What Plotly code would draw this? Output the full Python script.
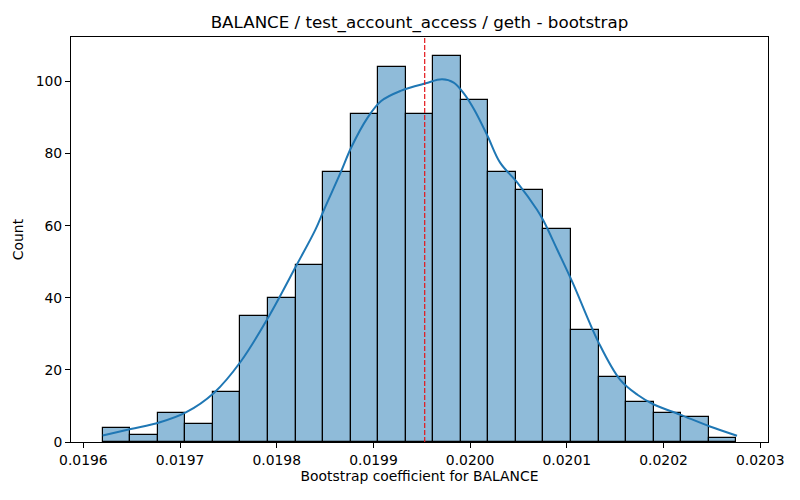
import plotly.graph_objects as go

# Histogram of bootstrap coefficients (23 bins)
bin_start = 0.019620
bin_width = 0.00002849
counts = [4, 2, 8, 5, 14, 35, 40, 49, 75, 91, 104, 91, 107, 95, 75, 70, 59, 31, 18, 11, 8, 7, 1]

# KDE curve (in count units)
kde_x = [0.019620, 0.019649, 0.0196785, 0.019706, 0.019735, 0.019763, 0.019792, 0.019820,
         0.019840, 0.019849, 0.019866, 0.019877, 0.019894, 0.019908, 0.019928, 0.019954,
         0.019971, 0.019983, 0.019994, 0.020004, 0.020018, 0.020031, 0.020049, 0.020069,
         0.020076, 0.020090, 0.020106, 0.020133, 0.020155, 0.020173, 0.020190, 0.020217,
         0.020248, 0.020276]
kde_y = [1.8, 3.6, 5.4, 8.2, 13.6, 22.4, 34.9, 48.8,
         58.9, 64.5, 74.7, 81.7, 90.0, 94.6, 97.4, 99.5,
         100.6, 99.7, 96.5, 92.3, 84.9, 77.5, 71.9, 64.5,
         61.3, 53.4, 44.2, 27.5, 17.3, 13.1, 10.4, 7.6,
         4.3, 1.75]

# Point estimate marked with the dashed line
point_estimate = 0.019953

x_ticks = [0.0196, 0.0197, 0.0198, 0.0199, 0.0200, 0.0201, 0.0202, 0.0203]
y_ticks = [0, 20, 40, 60, 80, 100]

bin_centers = [bin_start + (i + 0.5) * bin_width for i in range(len(counts))]

fig = go.Figure()

fig.add_trace(go.Bar(
    x=bin_centers,
    y=counts,
    width=bin_width,
    marker=dict(color='rgba(31,119,180,0.5)', line=dict(color='black', width=1.2)),
    showlegend=False,
))

fig.add_trace(go.Scatter(
    x=kde_x,
    y=kde_y,
    mode='lines',
    line=dict(color='#1f77b4', width=2, shape='spline'),
    showlegend=False,
))

fig.add_shape(
    type='line', xref='x', yref='paper',
    x0=point_estimate, x1=point_estimate, y0=0, y1=1,
    line=dict(color='#e3161b', width=1.2, dash='5px,2px'),
)

axis_style = dict(
    showgrid=False, zeroline=False, showline=True, linecolor='black', linewidth=1,
    mirror=True, ticks='outside', ticklen=5, tickcolor='black',
    tickfont=dict(size=13.9, color='black'), automargin=False,
)

x_min = bin_start
x_max = bin_start + len(counts) * bin_width
pad = (x_max - x_min) * 0.05

fig.update_xaxes(
    range=[x_min - pad, x_max + pad],
    tickvals=x_ticks, ticktext=[f'{t:.4f}' for t in x_ticks],
    title=dict(text='Bootstrap coefficient for BALANCE', font=dict(size=13.9, color='black'), standoff=4),
    **axis_style,
)
fig.update_yaxes(
    range=[0, max(counts) * 1.05],
    tickvals=y_ticks,
    title=dict(text='Count', font=dict(size=13.9, color='black'), standoff=8),
    **axis_style,
)

fig.update_layout(
    title=dict(text='BALANCE / test_account_access / geth - bootstrap',
               x=0.5, xref='paper', y=0.955, yanchor='middle',
               font=dict(size=16.7, color='black')),
    width=800, height=500,
    margin=dict(l=71, r=32, t=37, b=58),
    plot_bgcolor='white', paper_bgcolor='white',
    font=dict(family='DejaVu Sans', color='black'),
    bargap=0,
)

# page body has a default 8px margin, drop it so the figure sits at (0, 0)
fig.write_html('out.html', config={'displayModeBar': False},
               post_script="document.body.style.margin='0px';")
